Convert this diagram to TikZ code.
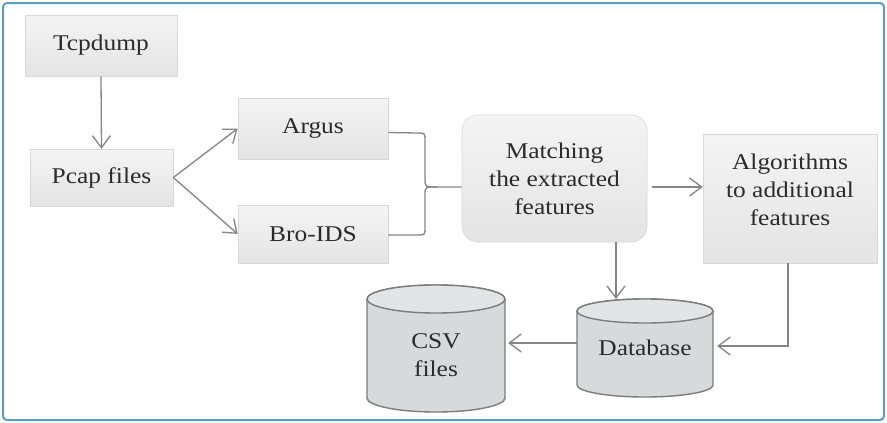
\documentclass[tikz,border=0pt]{standalone}
\usepackage{fontspec}
\newfontfamily\diagfont[FakeStretch=1.13]{Liberation Serif}
\usetikzlibrary{arrows.meta}
\definecolor{linec}{HTML}{858585}
\definecolor{framec}{HTML}{5A9CC8}
\definecolor{boxtop}{HTML}{F4F4F4}
\definecolor{boxbot}{HTML}{E4E4E4}
\definecolor{boxedge}{HTML}{D8D8D8}
\definecolor{cylfill}{HTML}{D6DADA}
\definecolor{cyltop}{HTML}{E2E5E5}
\definecolor{cyledge}{HTML}{7C7C7C}
\definecolor{txt}{HTML}{2B2B2B}
\tikzset{
  lbl/.style={font=\diagfont\fontsize{22.5}{28}\selectfont, text=txt, align=center},
  procbox/.style={lbl, draw=boxedge, line width=0.6pt, top color=boxtop, bottom color=boxbot, inner sep=0pt},
  roundbox/.style={procbox, rounded corners=16pt},
  cylnode/.style={lbl, inner sep=0pt},
  arr/.style={draw=linec, line width=1.3pt, -{Straight Barb[length=12pt,width=18pt,line width=1.3pt]}},
  conn/.style={draw=linec, line width=1.3pt},
  cyl/.style={draw=cyledge, line width=1.4pt}
}
\begin{document}
\begin{tikzpicture}[x=1pt,y=-1pt]
\useasboundingbox (0,0) rectangle (887,423);
\draw[framec, line width=2pt, rounded corners=4pt, fill=white] (3,3) rectangle (884,420);

% boxes
\node[procbox, minimum width=152pt, minimum height=61pt] (tcp) at (101,45.5) {Tcpdump};
\node[procbox, minimum width=143pt, minimum height=57pt] (pcap) at (101.5,177.5) {Pcap files};
\node[procbox, minimum width=150pt, minimum height=61pt] (argus) at (313,128.5) {Argus};
\node[procbox, minimum width=150pt, minimum height=58pt] (bro) at (313,234) {Bro-IDS};
\node[roundbox, minimum width=185pt, minimum height=127pt] (match) at (554.5,178.5) {Matching\\the extracted\\features};
\node[procbox, minimum width=174pt, minimum height=129pt] (alg) at (790,198.5) {};
\node[lbl] (algt) at (790,190) {Algorithms\\to additional\\features};

% cylinders
\filldraw[cyl, fill=cylfill] (577,311) -- (577,385) arc[start angle=180, end angle=0, x radius=68, y radius=12] -- (713,311) arc[start angle=0, end angle=-180, x radius=68, y radius=12] -- cycle;
\filldraw[cyl, fill=cyltop] (645,311) ellipse[x radius=68, y radius=12];
\node[cylnode, minimum width=136pt, minimum height=98pt] (db) at (645,348) {Database};
\filldraw[cyl, fill=cylfill] (367,299) -- (367,398) arc[start angle=180, end angle=0, x radius=69, y radius=14] -- (505,299) arc[start angle=0, end angle=-180, x radius=69, y radius=14] -- cycle;
\filldraw[cyl, fill=cyltop] (436,299) ellipse[x radius=69, y radius=14];
\node[cylnode, minimum width=138pt, minimum height=100pt] (csv) at (436,355) {CSV\\files};

% connectors
\draw[arr] (tcp.south) -- (pcap.north);
\draw[arr] (pcap.east) -- (argus.west);
\draw[arr] (pcap.east) -- (bro.west);

\coordinate (btip) at (437,187);
\draw[conn] ([yshift=-4pt]argus.east) -- (417,133) .. controls (425,133) .. (425,141) -- (425,179) .. controls (425,187) .. (btip) -- (btip -| match.west);
\draw[conn] ([yshift=-1pt]bro.east) -- (417,235) .. controls (425,235) .. (425,227) -- (425,195) .. controls (425,187) .. (btip);

\coordinate (m1) at ([xshift=5pt,yshift=-8.5pt]match.east);
\draw[arr] (m1) -- (m1 -| alg.west);

\coordinate (m2) at (616,242);
\coordinate (dbtop) at (616,299);
\draw[arr] (m2) -- (dbtop);

\coordinate (a1) at (788,263);
\coordinate (dbE) at ([xshift=4pt,yshift=2pt]db.east);
\draw[arr] (a1) |- (dbE);

\coordinate (csvE) at ([xshift=3pt]csv.east);
\draw[arr] ([yshift=5pt]db.west) -- ([yshift=5pt]db.west -| csvE);
\end{tikzpicture}
\end{document}
